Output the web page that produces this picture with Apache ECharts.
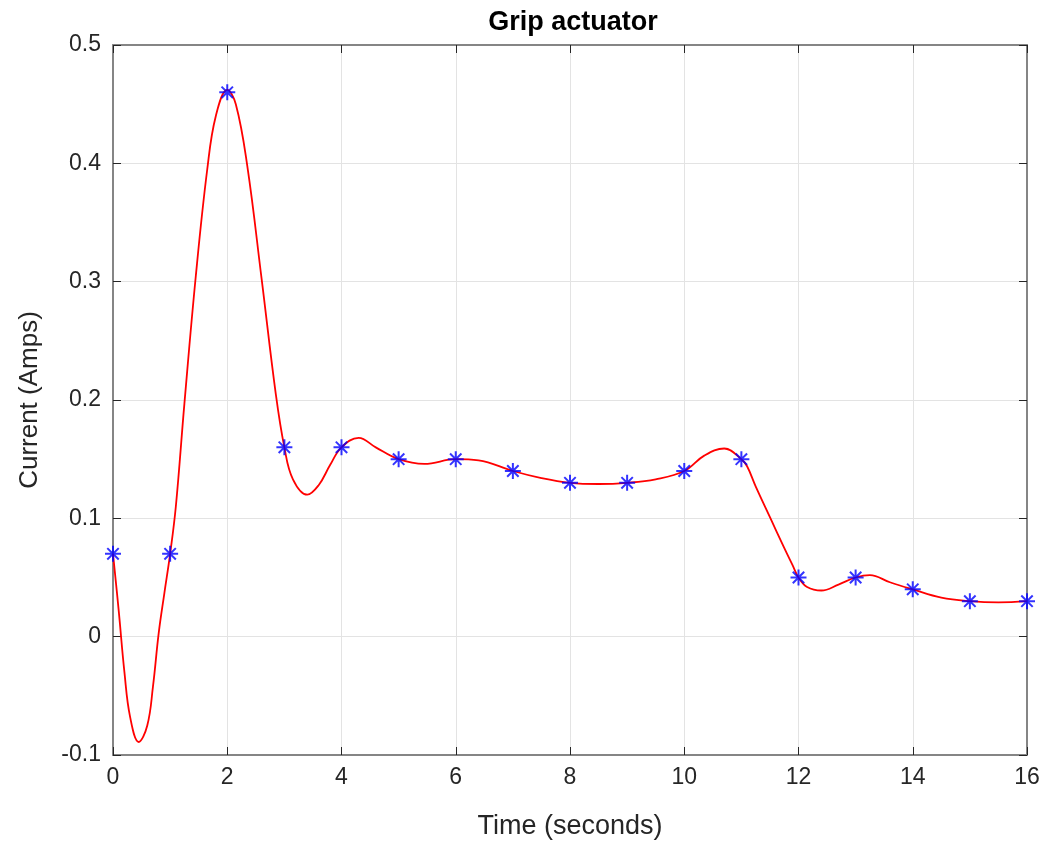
<!DOCTYPE html>
<html>
<head>
<meta charset="utf-8">
<script src="https://cdn.jsdelivr.net/npm/echarts@6/dist/echarts.min.js"></script>
<style>
  html, body { margin: 0; padding: 0; background: #fff; }
  #main { width: 1048px; height: 849px; }
</style>
</head>
<body>
<div id="main"></div>
<script>
// measured samples (asterisks)
var timePts = [0, 1, 2, 3, 4, 5, 6, 7, 8, 9, 10, 11, 12, 13, 14, 15, 16];
var currentPts = [0.07, 0.07, 0.46, 0.16, 0.16, 0.15, 0.15, 0.14, 0.13, 0.13, 0.14, 0.15, 0.05, 0.05, 0.04, 0.03, 0.03];

// red fitted curve
var timeCurve = [0, 0.1, 0.2, 0.3, 0.45, 0.6, 0.7, 0.8, 0.9, 1, 1.1, 1.25, 1.45, 1.65, 1.8, 2, 2.15, 2.35, 2.6, 2.85, 3, 3.15, 3.4, 3.6, 3.8, 4, 4.3, 4.6, 5, 5.45, 6, 6.4, 7, 7.5, 8, 8.5, 9, 9.5, 10, 10.35, 10.7, 11, 11.1, 11.25, 11.5, 11.75, 11.9, 12, 12.15, 12.4, 12.7, 13, 13.25, 13.6, 14, 14.5, 15, 15.5, 16];
var currentCurve = [0.07, 0.022, -0.03, -0.068, -0.089, -0.075, -0.042, 0.003, 0.037, 0.07, 0.11, 0.197, 0.305, 0.395, 0.44, 0.462, 0.45, 0.398, 0.303, 0.205, 0.16, 0.133, 0.12, 0.128, 0.145, 0.16, 0.168, 0.16, 0.15, 0.146, 0.15, 0.149, 0.14, 0.134, 0.13, 0.129, 0.13, 0.133, 0.14, 0.153, 0.159, 0.15, 0.144, 0.127, 0.101, 0.075, 0.06, 0.05, 0.042, 0.039, 0.044, 0.05, 0.052, 0.046, 0.04, 0.033, 0.03, 0.029, 0.03];

var chart = echarts.init(document.getElementById('main'), null, { renderer: 'canvas' });

var axisColor = '#262626';
var boxColor = '#858585';
var font = 'Liberation Sans, Arial, sans-serif';

var curveData = timeCurve.map(function (t, i) { return [t, currentCurve[i]]; });
var ptData = timePts.map(function (t, i) { return [t, currentPts[i]]; });

// asterisk like matlab '*'
var star = 'path://M0,7L14,7M7,0L7,14M2,2L12,12M12,2L2,12';

var option = {
  animation: false,
  backgroundColor: '#fff',
  title: {
    text: 'Grip actuator',
    left: 568,
    top: 4,
    textAlign: 'center',
    textStyle: { fontFamily: font, fontSize: 27, fontWeight: 'bold', color: '#000' }
  },
  grid: { left: 113, right: 21, top: 45, bottom: 94 },
  xAxis: [{
    type: 'value',
    min: 0, max: 16, interval: 2,
    name: 'Time (seconds)',
    nameLocation: 'middle',
    nameGap: 58,
    nameTextStyle: { fontFamily: font, fontSize: 27, color: axisColor },
    axisLine: { show: true, onZero: false, lineStyle: { color: boxColor, width: 2 } },
    axisTick: { show: true, inside: true, length: 8, lineStyle: { color: axisColor } },
    axisLabel: { fontFamily: font, fontSize: 23, color: axisColor, margin: 11 },
    splitLine: { show: true, lineStyle: { color: '#e3e3e3', width: 1 } }
  }, {
    type: 'value',
    position: 'top',
    min: 0, max: 16, interval: 2,
    axisLine: { show: true, onZero: false, lineStyle: { color: boxColor, width: 2 } },
    axisTick: { show: true, inside: true, length: 8, lineStyle: { color: axisColor } },
    axisLabel: { show: false },
    splitLine: { show: false }
  }],
  yAxis: [{
    type: 'value',
    min: -0.1, max: 0.5, interval: 0.1,
    name: 'Current (Amps)',
    nameLocation: 'middle',
    nameGap: 70,
    nameTextStyle: { fontFamily: font, fontSize: 26, color: axisColor },
    axisLine: { show: true, onZero: false, lineStyle: { color: boxColor, width: 2 } },
    axisTick: { show: true, inside: true, length: 8, lineStyle: { color: axisColor } },
    axisLabel: { fontFamily: font, fontSize: 23, color: axisColor, margin: 12 },
    splitLine: { show: true, lineStyle: { color: '#e3e3e3', width: 1 } }
  }, {
    type: 'value',
    position: 'right',
    min: -0.1, max: 0.5, interval: 0.1,
    axisLine: { show: true, onZero: false, lineStyle: { color: boxColor, width: 2 } },
    axisTick: { show: true, inside: true, length: 8, lineStyle: { color: axisColor } },
    axisLabel: { show: false },
    splitLine: { show: false }
  }],
  series: [{
    name: 'curve',
    type: 'line',
    data: curveData,
    smooth: 0.4,
    showSymbol: false,
    lineStyle: { color: '#ff0000', width: 1.8 },
    z: 2
  }, {
    name: 'points',
    type: 'scatter',
    data: ptData,
    symbol: star,
    symbolSize: 16,
    symbolKeepAspect: true,
    itemStyle: { color: 'none', borderColor: '#0000ff', borderWidth: 2 },
    z: 3
  }]
};
chart.setOption(option);
</script>
</body>
</html>
